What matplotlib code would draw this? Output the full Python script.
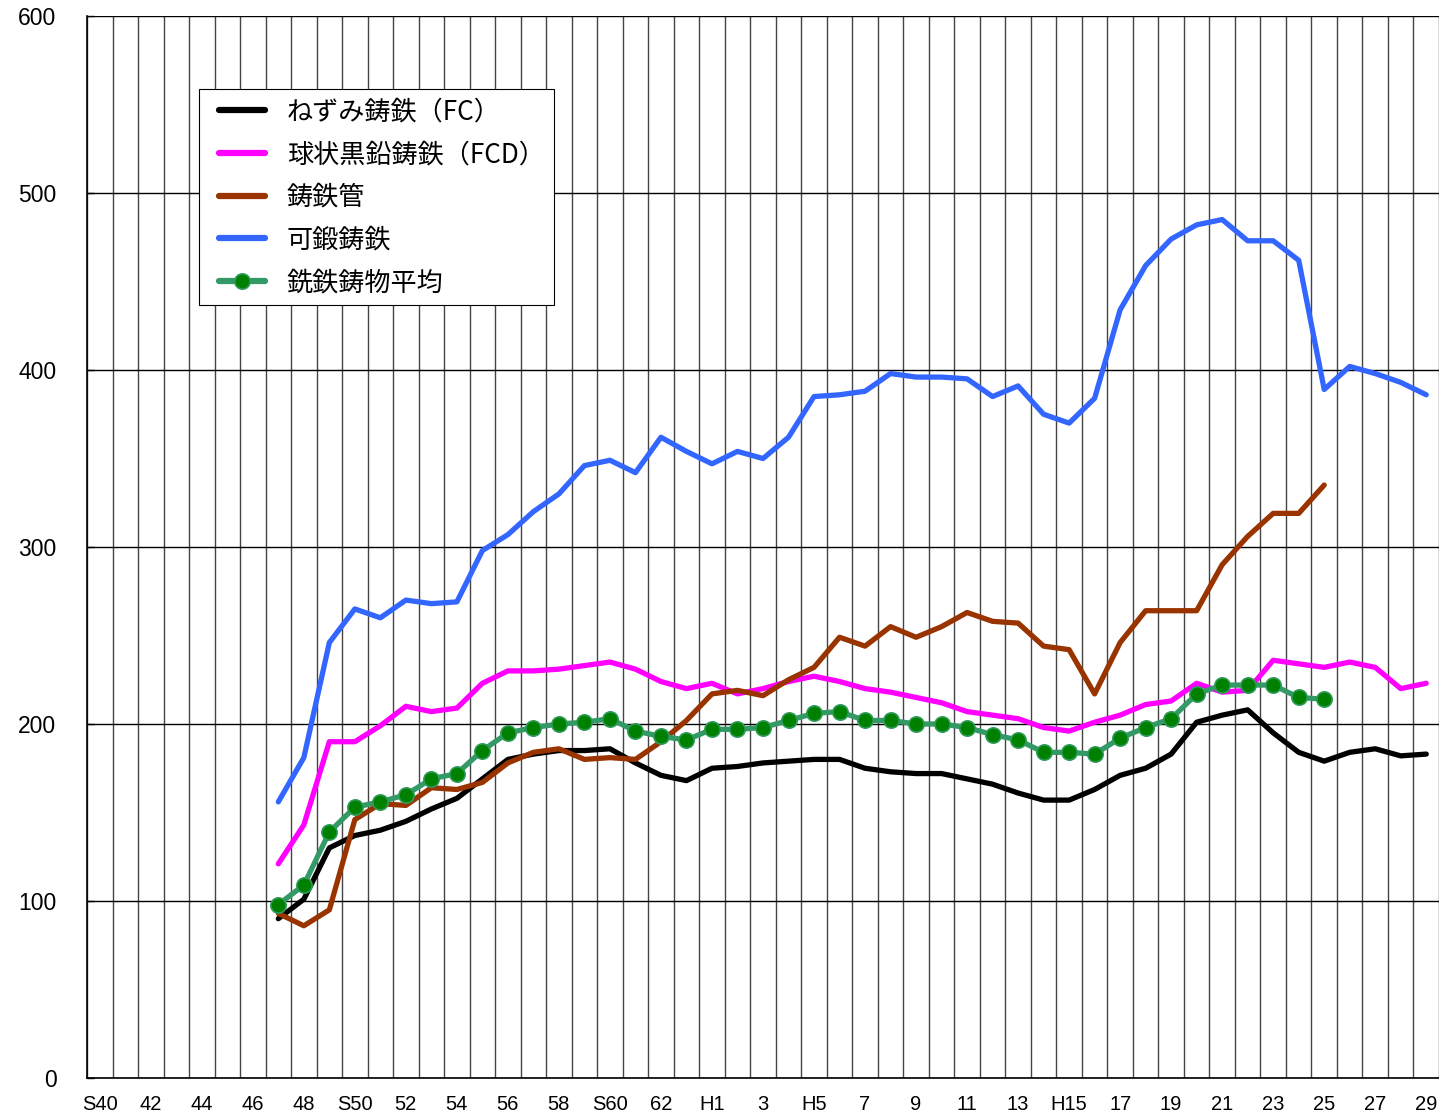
import matplotlib
matplotlib.use('Agg')
import matplotlib.pyplot as plt
from matplotlib.lines import Line2D
from matplotlib.legend_handler import HandlerLine2D
import numpy as np

# fiscal years S40 (1965) .. H29 (2017); data begins at S47
year_labels = ['S40', '42', '44', '46', '48', 'S50', '52', '54', '56', '58', 'S60', '62',
               'H1', '3', 'H5', '7', '9', '11', '13', 'H15', '17', '19', '21', '23', '25', '27', '29']
n_years = 53
first_idx = 7

grey_iron = [90, 101, 130, 137, 140, 145, 152, 158, 169, 180, 183, 185, 185, 186, 178, 171, 168,
             175, 176, 178, 179, 180, 180, 175, 173, 172, 172, 169, 166, 161, 157, 157, 163, 171,
             175, 183, 201, 205, 208, 195, 184, 179, 184, 186, 182, 183]
ductile_iron = [121, 143, 190, 190, 199, 210, 207, 209, 223, 230, 230, 231, 233, 235, 231, 224, 220,
                223, 217, 220, 224, 227, 224, 220, 218, 215, 212, 207, 205, 203, 198, 196, 201, 205,
                211, 213, 223, 218, 219, 236, 234, 232, 235, 232, 220, 223]
cast_pipe = [93, 86, 95, 146, 155, 154, 164, 163, 167, 178, 184, 186, 180, 181, 180, 190, 202,
             217, 219, 216, 225, 232, 249, 244, 255, 249, 255, 263, 258, 257, 244, 242, 217, 246,
             264, 264, 264, 290, 306, 319, 319, 335]
malleable_iron = [156, 181, 246, 265, 260, 270, 268, 269, 298, 307, 320, 330, 346, 349, 342, 362, 354,
                  347, 354, 350, 362, 385, 386, 388, 398, 396, 396, 395, 385, 391, 375, 370, 384, 434,
                  459, 474, 482, 485, 473, 473, 462, 389, 402, 398, 393, 386]
all_average = [98, 109, 139, 153, 156, 160, 169, 172, 185, 195, 198, 200, 201, 203, 196, 193, 191,
               197, 197, 198, 202, 206, 207, 202, 202, 200, 200, 198, 194, 191, 184, 184, 183, 192,
               198, 203, 217, 222, 222, 222, 215, 214]

series_names = ['ねずみ鋳鉄（FC）', '球状黒鉛鋳鉄（FCD）', '鋳鉄管', '可鍛鋳鉄', '銑鉄鋳物平均']

plt.rcParams['font.family'] = ['Noto Sans CJK JP', 'DejaVu Sans']

fig = plt.figure(figsize=(14.39, 11.2), dpi=100)
ax = fig.add_axes([87 / 1439, 42 / 1120, 1352 / 1439, 1062 / 1120])


def xs(values):
    return np.arange(first_idx, first_idx + len(values))


lw = 3.8
style = dict(lw=lw, solid_capstyle='round', solid_joinstyle='round')
ax.plot(xs(grey_iron), grey_iron, color='black', label=series_names[0], zorder=3, **style)
ax.plot(xs(ductile_iron), ductile_iron, color='#ff00ff', label=series_names[1], zorder=3, **style)
ax.plot(xs(cast_pipe), cast_pipe, color='#993300', label=series_names[2], zorder=3, **style)
ax.plot(xs(malleable_iron), malleable_iron, color='#3366ff', label=series_names[3], zorder=3, **style)
ax.plot(xs(all_average), all_average, color='#339966', marker='o', markersize=11,
        markerfacecolor='#008000', markeredgecolor='#2e9a5a', markeredgewidth=1.2,
        label=series_names[4], zorder=4, **style)

ax.set_xlim(-0.5, n_years - 0.5)
ax.set_ylim(0, 600)

# category labels every two years, grid lines between categories
ax.set_xticks(np.arange(0, n_years, 2))
ax.set_xticklabels(year_labels, family=['Liberation Sans', 'DejaVu Sans'], fontsize=14.5)
ax.set_xticks(np.arange(-0.5, n_years, 1), minor=True)
ax.tick_params(axis='x', which='both', length=0, pad=12)
ax.grid(True, axis='x', which='minor', color='#444444', lw=1.0)

ax.set_yticks(np.arange(0, 601, 100))
ax.set_yticklabels([str(v) for v in range(0, 601, 100)], family=['Liberation Sans', 'DejaVu Sans'],
                   fontsize=16.5)
ax.tick_params(axis='y', direction='in', length=5, width=1, pad=22)
ax.grid(True, axis='y', which='major', color='black', lw=1.0)
ax.set_axisbelow(True)

for side in ['top', 'right']:
    ax.spines[side].set_visible(False)
ax.spines['left'].set_color('black')
ax.spines['bottom'].set_color('black')
ax.spines['left'].set_linewidth(1.2)
ax.spines['bottom'].set_linewidth(1.2)

leg = ax.legend(loc='upper left', bbox_to_anchor=(112 / 1352, 1 - 73 / 1062), fontsize=18.8,
                frameon=True, fancybox=False, edgecolor='black', framealpha=1,
                handlelength=2.15, handletextpad=0.85, labelspacing=0.6, borderpad=0.36,
                borderaxespad=0, handler_map={Line2D: HandlerLine2D(xpad=0.4)})
leg.get_frame().set_linewidth(0.8)
for line in leg.get_lines():
    line.set_linewidth(4.5)
    line.set_solid_capstyle('round')

fig.savefig('out.png', dpi=100)
